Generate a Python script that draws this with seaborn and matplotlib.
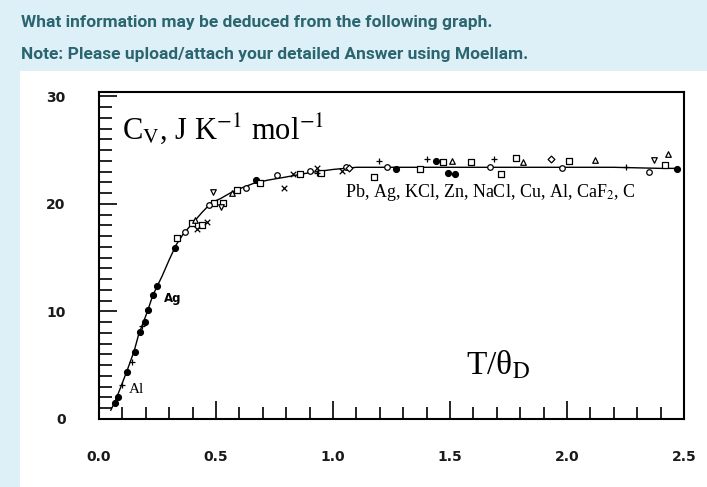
import matplotlib
matplotlib.use("Agg")
import matplotlib.pyplot as plt
from matplotlib.patches import Rectangle
from matplotlib.ticker import MultipleLocator
import seaborn as sns
import pandas as pd

# ---------------- data ----------------
curve_x = [0.05, 0.07, 0.09, 0.12, 0.15, 0.17, 0.19, 0.21, 0.23, 0.25, 0.27, 0.30,
           0.33, 0.36, 0.40, 0.44, 0.48, 0.52, 0.56, 0.60, 0.66, 0.72, 0.80, 0.90,
           1.00, 1.10, 1.25, 1.40, 1.60, 1.80, 2.00, 2.20, 2.40, 2.47]
curve_y = [0.8, 1.7, 2.8, 4.5, 6.3, 7.9, 9.0, 10.2, 11.5, 12.4, 13.3, 14.8,
           16.2, 17.2, 18.2, 19.2, 20.1, 20.5, 21.0, 21.4, 21.9, 22.2, 22.5, 22.9,
           23.2, 23.4, 23.4, 23.4, 23.4, 23.4, 23.4, 23.4, 23.3, 23.3]

filled_x = [0.068, 0.08, 0.12, 0.153, 0.175, 0.196, 0.21, 0.23, 0.247, 0.324, 0.67,
            1.27, 1.44, 1.49, 1.52, 2.47]
filled_y = [1.5, 2.0, 4.4, 6.2, 8.1, 9.0, 10.1, 11.5, 12.4, 15.9, 22.2,
            23.2, 24.0, 22.9, 22.8, 23.2]

square_x = [0.332, 0.396, 0.44, 0.49, 0.53, 0.59, 0.69, 0.86, 0.95, 1.175, 1.37,
            1.47, 1.59, 1.72, 1.78, 2.01, 2.42]
square_y = [16.8, 18.2, 18.0, 20.1, 20.1, 21.3, 21.9, 22.8, 22.9, 22.5, 23.2,
            23.9, 23.9, 22.8, 24.3, 24.0, 23.6]

circle_x = [0.366, 0.47, 0.63, 0.76, 0.90, 1.056, 1.23, 1.67, 1.98, 2.35]
circle_y = [17.4, 19.9, 21.5, 22.7, 23.1, 23.4, 23.4, 23.4, 23.3, 23.0]

tri_x = [0.409, 0.57, 1.51, 1.81, 2.12, 2.43]
tri_y = [18.5, 21.0, 24.0, 23.9, 24.1, 24.6]

vtri_x = [0.486, 0.52, 2.37]
vtri_y = [21.1, 19.7, 24.1]

cross_x = [0.42, 0.46, 0.79, 0.83, 0.93, 1.04]
cross_y = [17.7, 18.3, 21.5, 22.8, 23.3, 23.1]

plus_x = [0.10, 0.14, 0.185, 0.93, 1.197, 1.40, 1.69, 2.25]
plus_y = [3.2, 5.3, 8.6, 22.9, 24.0, 24.2, 24.2, 23.4]

diam_x = [1.07, 1.93]
diam_y = [23.3, 24.2]

x_ticks = [0.0, 0.5, 1.0, 1.5, 2.0, 2.5]
x_tick_labels = ["0.0", "0.5", "1.0", "1.5", "2.0", "2.5"]
y_ticks = [0, 10, 20, 30]
y_tick_labels = ["0", "10", "20", "30"]

title_line1 = "What information may be deduced from the following graph."
title_line2 = "Note: Please upload/attach your detailed Answer using Moellam."

# ---------------- style ----------------
sns.set_theme(style="ticks")
plt.rcParams["font.family"] = ["DejaVu Sans"]
plt.rcParams["mathtext.fontset"] = "stix"

BG = "#ddf0f7"
HEAD = "#2b6570"

W, H = 707, 487
fig = plt.figure(figsize=(W / 100, H / 100), dpi=100)
fig.patch.set_facecolor(BG)
fig.add_artist(Rectangle((20 / W, 0), 1, (H - 71) / H, transform=fig.transFigure,
                         facecolor="white", edgecolor="none", zorder=0))

fig.text(21 / W, 1 - 22 / H, title_line1, ha="left", va="center", color=HEAD,
         fontsize=12.5, fontweight="bold", family=["Roboto", "DejaVu Sans"])
fig.text(21 / W, 1 - 54 / H, title_line2, ha="left", va="center", color=HEAD,
         fontsize=12.5, fontweight="bold", family=["Roboto", "DejaVu Sans"])

ax = fig.add_axes([99 / W, (H - 419) / H, (684 - 99) / W, (419 - 92) / H])
ax.set_facecolor("white")

df_curve = pd.DataFrame({"x": curve_x, "y": curve_y})
sns.lineplot(data=df_curve, x="x", y="y", ax=ax, color="black", lw=1.0, zorder=2)

def pts(xs, ys, marker, filled=False, size=16):
    d = pd.DataFrame({"x": xs, "y": ys})
    sns.scatterplot(data=d, x="x", y="y", ax=ax, marker=marker, s=size,
                    facecolor="black" if filled else "white",
                    edgecolor="black", linewidth=0.9, zorder=3)

pts(filled_x, filled_y, "o", filled=True, size=18)
pts(square_x, square_y, "s")
pts(circle_x, circle_y, "o")
pts(tri_x, tri_y, "^")
pts(vtri_x, vtri_y, "v")
pts(diam_x, diam_y, "D", size=12)
d = pd.DataFrame({"x": cross_x, "y": cross_y})
sns.scatterplot(data=d, x="x", y="y", ax=ax, marker="x", s=16, color="black",
                linewidth=0.9, zorder=3)
d = pd.DataFrame({"x": plus_x, "y": plus_y})
sns.scatterplot(data=d, x="x", y="y", ax=ax, marker="+", s=22, color="black",
                linewidth=0.9, zorder=3)

ax.set_xlim(0, 2.5)
ax.set_ylim(0, 30.4)
ax.set_xlabel("")
ax.set_ylabel("")
for s in ax.spines.values():
    s.set_visible(True)
    s.set_color("black")
    s.set_linewidth(1.5)

ax.set_xticks(x_ticks)
ax.set_xticklabels(x_tick_labels)
ax.set_yticks(y_ticks)
ax.set_yticklabels(y_tick_labels)
ax.xaxis.set_minor_locator(MultipleLocator(0.1))
ax.yaxis.set_minor_locator(MultipleLocator(1))
ax.tick_params(axis="both", which="major", direction="in", length=13, width=1.2,
               color="black", labelcolor="#1a1a1a", labelsize=10)
ax.tick_params(axis="both", which="minor", direction="in", length=9, width=1.2,
               color="black")
ax.tick_params(axis="x", which="major", pad=22)
ax.tick_params(axis="y", which="major", pad=24)
ax.tick_params(top=False, right=False, which="both")
for lab in ax.get_xticklabels() + ax.get_yticklabels():
    lab.set_fontweight("bold")

ax.text(0.10, 26.1, r"C$_\mathrm{V}$, J K$^{-1}$ mol$^{-1}$", family="Liberation Serif",
        fontsize=22, ha="left", va="baseline", color="black")
ax.text(1.57, 4.1, r"T/θ$_\mathrm{D}$", family="Liberation Serif", fontsize=24,
        ha="left", va="baseline", color="black")
ax.text(1.05, 21.1, r"Pb, Ag, KCl, Zn, NaCl, Cu, Al, CaF$_2$, C",
        family="Liberation Serif", fontsize=13, ha="left", va="center", color="black")
ax.text(0.315, 11.2, "Ag", fontsize=8.5, fontweight="bold", ha="center", va="center",
        color="black")
ax.text(0.158, 2.7, "Al", family="Liberation Serif", fontsize=11, ha="center",
        va="center", color="black")

fig.savefig("out.png", dpi=100, facecolor=BG)
